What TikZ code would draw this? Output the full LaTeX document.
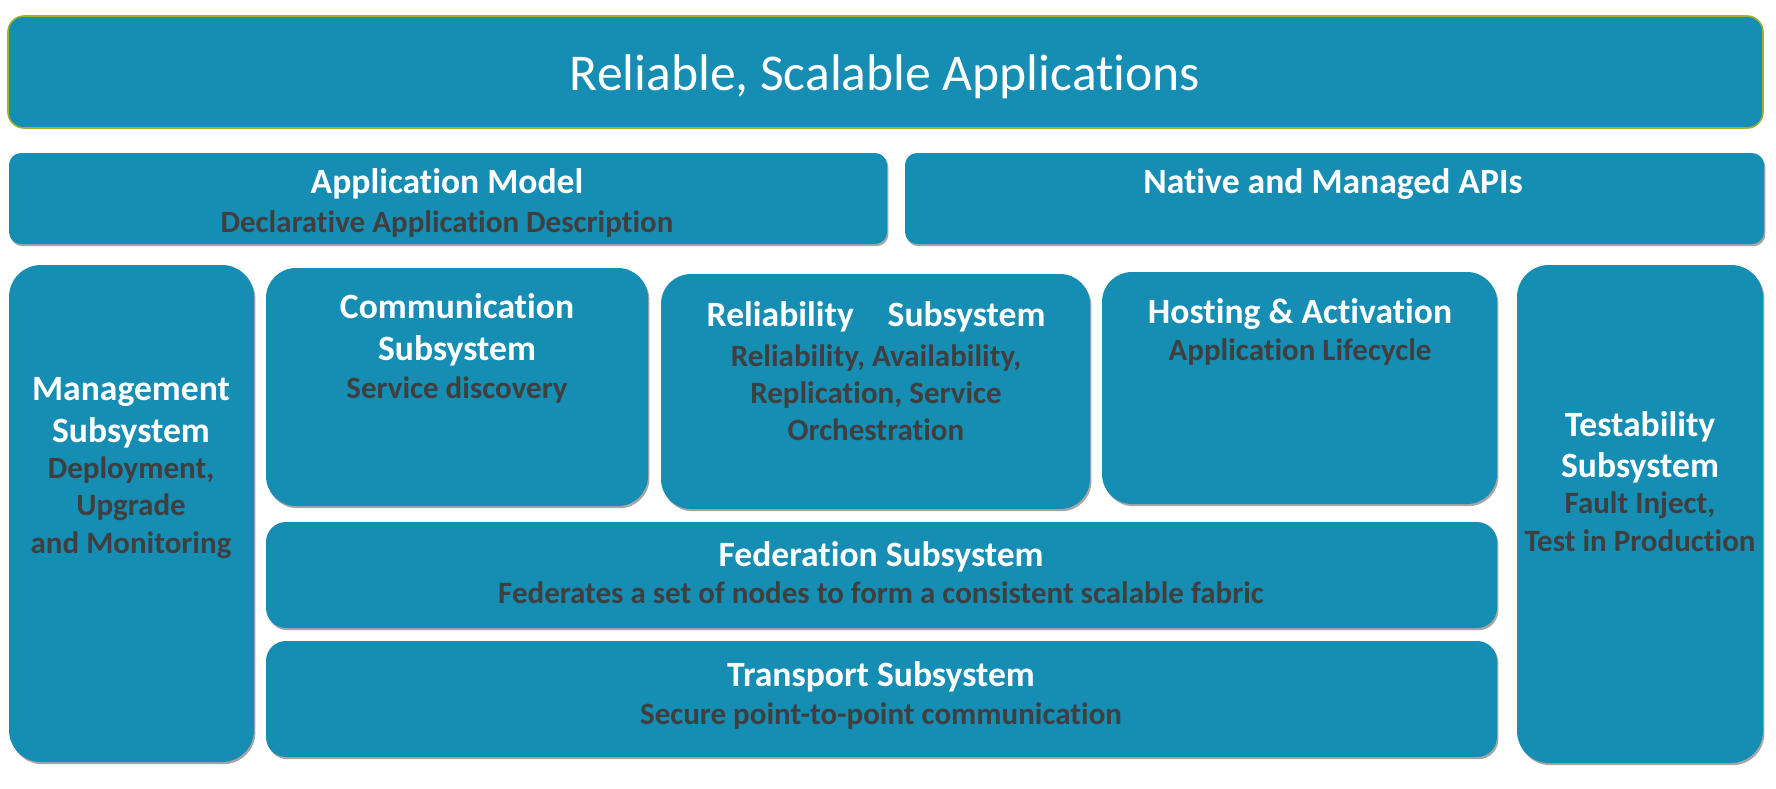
\documentclass[tikz,border=0pt]{standalone}
\usepackage{fontspec}
\setmainfont{Carlito}[Ligatures=NoCommon]
\usetikzlibrary{shadows}
\definecolor{boxblue}{HTML}{168DB3}
\definecolor{subgray}{HTML}{3F3F3F}
\definecolor{oliveedge}{HTML}{A3B02C}
\tikzset{
  box/.style={rectangle, fill=boxblue, draw=none, inner sep=0pt,
    drop shadow={shadow xshift=0.7pt, shadow yshift=-1.1pt, opacity=0.35, fill=black}},
  topbox/.style={rectangle, fill=boxblue, draw=oliveedge, line width=0.8pt, inner sep=0pt, rounded corners=8pt},
  hd/.style={anchor=base, text=white, font=\fontsize{17.8}{21}\selectfont\bfseries, inner sep=0pt},
  sb/.style={anchor=base, text=subgray, font=\fontsize{15.5}{18}\selectfont\bfseries, inner sep=0pt},
  ttl/.style={anchor=base, text=white, font=\fontsize{25.8}{30}\selectfont, inner sep=0pt}
}
\begin{document}
\begin{tikzpicture}[x=0.5pt,y=-0.5pt]
\useasboundingbox (0,0) rectangle (1776,788);
% boxes
\node[topbox, minimum width=877.5pt, minimum height=56pt] (top) at (885.5,72) {};
\node[box, rounded corners=6pt, minimum width=439pt, minimum height=45.5pt] (app) at (448,198.5) {};
\node[box, rounded corners=6pt, minimum width=429.5pt, minimum height=45.5pt] (native) at (1334.5,198.5) {};
\node[box, rounded corners=16pt, minimum width=122.5pt, minimum height=248.5pt] (mgmt) at (131.5,513.5) {};
\node[box, rounded corners=15pt, minimum width=191pt, minimum height=119pt] (comm) at (457,387) {};
\node[box, rounded corners=15pt, minimum width=214.5pt, minimum height=117.5pt] (rel) at (875.5,391.5) {};
\node[box, rounded corners=15pt, minimum width=197.5pt, minimum height=116pt] (host) at (1299.5,388) {};
\node[box, rounded corners=16pt, minimum width=123pt, minimum height=249pt] (test) at (1640,514) {};
\node[box, rounded corners=10pt, minimum width=615.5pt, minimum height=53pt] (fed) at (881.5,575) {};
\node[box, rounded corners=10pt, minimum width=615.5pt, minimum height=58pt] (trans) at (881.5,699) {};
% texts
\node[ttl] (topT) at (885,90) {Reliable, Scalable Applications};
\node[hd] (appT) at (447,193) {Application Model};
\node[sb] (appS) at (447,232.5) {Declarative Application Description};
\node[hd] (nativeT) at (1333,193) {Native and Managed APIs};
\node[hd] (mgmtT1) at (131,400) {Management};
\node[hd] (mgmtT2) at (131,442) {Subsystem};
\node[sb] (mgmtS1) at (131,478.5) {Deployment,};
\node[sb] (mgmtS2) at (131,515.5) {Upgrade};
\node[sb] (mgmtS3) at (131,553.5) {and Monitoring};
\node[hd] (commT1) at (457,318) {Communication};
\node[hd] (commT2) at (457,360) {Subsystem};
\node[sb] (commS1) at (457,398.5) {Service discovery};
\node[hd] (relT) at (876,326) {Reliability\hspace{0.95em}Subsystem};
\node[sb] (relS1) at (876,366.5) {Reliability, Availability,};
\node[sb] (relS2) at (876,403.5) {Replication, Service};
\node[sb] (relS3) at (876,440.5) {Orchestration};
\node[hd] (hostT) at (1300,323) {Hosting \& Activation};
\node[sb] (hostS) at (1300,360.5) {Application Lifecycle};
\node[hd] (testT1) at (1640,436) {Testability};
\node[hd] (testT2) at (1640,477) {Subsystem};
\node[sb] (testS1) at (1640,513.5) {Fault Inject,};
\node[sb] (testS2) at (1640,551.5) {Test in Production};
\node[hd] (fedT) at (881,566) {Federation Subsystem};
\node[sb] (fedS) at (881,603.5) {Federates a set of nodes to form a consistent scalable fabric};
\node[hd] (transT) at (881,686) {Transport Subsystem};
\node[sb] (transS) at (881,724.5) {Secure point-to-point communication};
\end{tikzpicture}
\end{document}
